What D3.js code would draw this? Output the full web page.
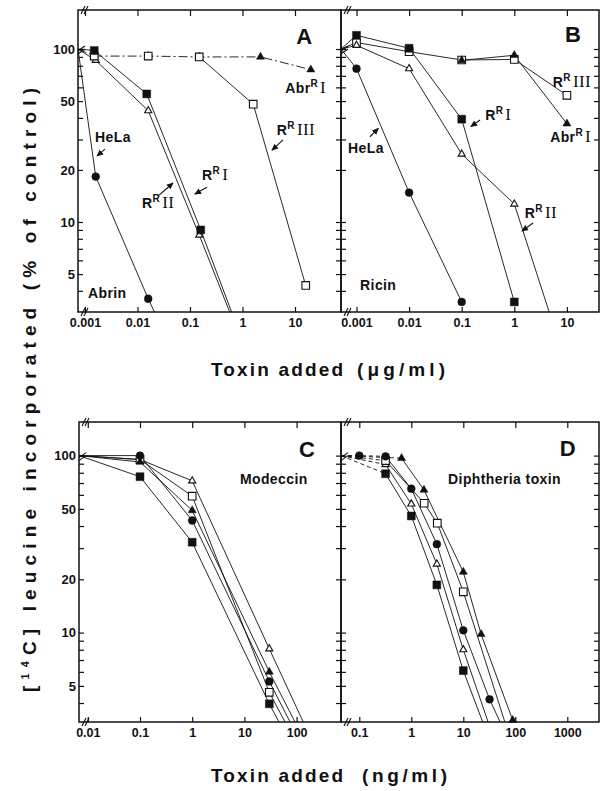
<!DOCTYPE html>
<html>
<head>
<meta charset="utf-8">
<script src="https://cdn.jsdelivr.net/npm/d3@7"></script>
<style>
  body { margin: 0; background: #fff; }
</style>
</head>
<body>
<svg id="figure" width="600" height="791"></svg>
<script>
//Tick values, % of control
const yLabelTicks = [5, 10, 20, 50, 100];
const yMinorTicks = [3, 4, 6, 7, 8, 9, 30, 40, 60, 70, 80, 90];

//Toxin doses marked on the x axes
const xTicksAB = [0.001, 0.01, 0.1, 1, 10];
const xTicksC = [0.01, 0.1, 1, 10, 100];
const xTicksD = [0.1, 1, 10, 100, 1000];

//Panel A - abrin, [dose ug/ml, % of control]
const abrinData = {
  HeLa: [[0.0016, 18.3], [0.016, 3.6]],
  RRI: [[0.0015, 98], [0.015, 55], [0.16, 9.0]],
  RRII: [[0.0016, 86], [0.016, 44], [0.15, 8.4]],
  RRIII: [[0.0015, 91], [0.016, 91], [0.15, 90], [1.6, 48], [16, 4.3]],
  AbrRI: [[0.0015, 91], [0.016, 91], [0.15, 90], [2.2, 90], [20, 76]],
};
//dose where a curve leaves the plot at the bottom
const abrinTails = { HeLa: 0.021, RRI: 0.62, RRII: 0.57 };

//Panel B - ricin
const ricinData = {
  HeLa: [[0.001, 77], [0.01, 14.8], [0.1, 3.45]],
  RRI: [[0.001, 120], [0.01, 101], [0.1, 39.3], [1, 3.45]],
  RRII: [[0.001, 105], [0.01, 77], [0.1, 24.7], [1, 12.7]],
  RRIII: [[0.001, 109], [0.01, 96.5], [0.1, 86.4], [1, 87], [10, 54]],
  AbrRI: [[0.1, 86], [1, 92], [10, 37]],
};
const ricinTails = { RRII: 4.6 };

//Panel C - modeccin, [dose ng/ml, % of control]
const modeccinData = {
  HeLa: [[0.1, 100], [1, 43], [30, 5.3]],
  RRI: [[0.1, 76], [1, 32.4], [30, 3.96]],
  RRII: [[0.1, 95], [1, 72], [30, 8.1]],
  RRIII: [[0.1, 95], [1, 59], [30, 4.6]],
  AbrRI: [[0.1, 92], [1, 49], [30, 6.0]],
};
const modeccinTails = { HeLa: 75, RRI: 46, RRII: 134, RRIII: 60, AbrRI: 93 };

//Panel D - diphtheria toxin
const diphtheriaData = {
  HeLa: [[0.1, 100], [0.32, 99], [1, 65], [3.1, 31.6], [10, 10.3], [32, 4.2]],
  RRI: [[0.32, 79], [1, 45.6], [3.1, 18.6], [10, 6.1]],
  RRII: [[0.32, 89], [1, 53.3], [3.1, 24.4], [10, 8.0]],
  RRIII: [[0.32, 93.7], [1.77, 53.8], [3.16, 41.5], [10, 17]],
  AbrRI: [[0.65, 96.7], [1.75, 64], [10, 22], [22, 9.8], [89, 3.2]],
};
const diphtheriaTails = { HeLa: 51, RRI: 23.6, RRII: 30, RRIII: 63 };

//Curve labels, placed in data units of their panel
const notesA = [
  { text: "A", x: 15, y: 107, big: true },
  { text: "Abr", sup: "R", roman: "I", x: 6.5, y: 55.7 },
  { text: "R", sup: "R", roman: "III", x: 4.5, y: 32 },
  { text: "R", sup: "R", roman: "I", x: 0.17, y: 17.5 },
  { text: "R", sup: "R", roman: "II", x: 0.0122, y: 12.1 },
  { text: "HeLa", x: 0.00155, y: 29 },
  { text: "Abrin", x: 0.00114, y: 3.64 },
];
const arrowsA = [
  [[5.9, 29.8], [3.65, 26]],
  [[0.211, 15.9], [0.124, 14.5]],
  [[0.0245, 14.1], [0.0474, 16.8]],
  [[0.0024, 26.4], [0.0017, 24.1]],
];
const notesB = [
  { text: "B", x: 13, y: 110, big: true },
  { text: "R", sup: "R", roman: "III", x: 5.4, y: 60 },
  { text: "Abr", sup: "R", roman: "I", x: 4.8, y: 29 },
  { text: "R", sup: "R", roman: "I", x: 0.28, y: 38.9 },
  { text: "HeLa", x: 0.00069, y: 25 },
  { text: "R", sup: "R", roman: "II", x: 1.58, y: 10.5 },
  { text: "Ricin", x: 0.00117, y: 4.05 },
];
const arrowsB = [
  [[0.223, 38.9], [0.15, 35.6]],
  [[0.0018, 31.1], [0.0026, 34.8]],
  [[2.27, 9.86], [1.4, 8.87]],
];
const notesC = [
  { text: "C", x: 158, y: 98, big: true },
  { text: "Modeccin", x: 8.2, y: 69 },
];
const notesD = [
  { text: "D", x: 1020, y: 100, big: true },
  { text: "Diphtheria toxin", x: 5.1, y: 69 },
];

const ink = "#111";
const sansFont = '"Liberation Sans", Arial, sans-serif';
const serifFont = '"Liberation Serif", "Times New Roman", serif';

//Marker for each cell line
const symbolShape = {
  HeLa: d3.symbolCircle,
  RRI: d3.symbolSquare,
  RRII: d3.symbolTriangle,
  RRIII: d3.symbolSquare,
  AbrRI: d3.symbolTriangle,
};
const symbolFilled = { HeLa: true, RRI: true, RRII: false, RRIII: false, AbrRI: true };
const symbolArea = { HeLa: 48, RRI: 62, RRII: 22, RRIII: 58, AbrRI: 28 };

const panels = [
  {
    name: "A", data: abrinData, tails: abrinTails, notes: notesA, arrows: arrowsA,
    xTicks: xTicksAB, xRange: [85, 295], yRange: [49, 222],
    frame: { left: 78, right: 341, top: 10, bottom: 312 }, yLabels: true,
    order: ["AbrRI", "RRII", "RRIII", "RRI", "HeLa"],
    lineStart: { RRIII: 2 }, dashDot: ["AbrRI"], dashedHead: {},
  },
  {
    name: "B", data: ricinData, tails: ricinTails, notes: notesB, arrows: arrowsB,
    xTicks: xTicksAB, xRange: [356.5, 566.9], yRange: [49, 222],
    frame: { left: 341, right: 599, top: 10, bottom: 312 }, yLabels: false,
    order: ["RRIII", "RRII", "AbrRI", "RRI", "HeLa"],
    lineStart: { AbrRI: 0 }, dashDot: [], dashedHead: {},
  },
  {
    name: "C", data: modeccinData, tails: modeccinTails, notes: notesC, arrows: [],
    xTicks: xTicksC, xRange: [87.8, 296.6], yRange: [455.6, 632.6],
    frame: { left: 79, right: 341, top: 422, bottom: 722 }, yLabels: true,
    order: ["RRII", "RRIII", "AbrRI", "RRI", "HeLa"],
    lineStart: {}, dashDot: [], dashedHead: {},
  },
  {
    name: "D", data: diphtheriaData, tails: diphtheriaTails, notes: notesD, arrows: [],
    xTicks: xTicksD, xRange: [359.3, 567.3], yRange: [455.6, 632.6],
    frame: { left: 341, right: 599, top: 422, bottom: 722 }, yLabels: false,
    order: ["RRII", "RRIII", "AbrRI", "RRI", "HeLa"],
    lineStart: {}, dashDot: [],
    dashedHead: { HeLa: 2, RRI: 1, RRII: 1, RRIII: 1, AbrRI: 1 },
  },
];

const svg = d3.select("#figure");

svg
  .append("defs")
  .append("marker")
  .attr("id", "arrowHead")
  .attr("viewBox", "0 0 8 8")
  .attr("refX", 7)
  .attr("refY", 4)
  .attr("markerWidth", 7)
  .attr("markerHeight", 7)
  .attr("markerUnits", "userSpaceOnUse")
  .attr("orient", "auto")
  .append("path")
  .attr("d", "M0,0.5 L8,4 L0,7.5 Z")
  .attr("fill", ink);

const styleAxis = (sel, size) => {
  sel.select(".domain").remove();
  sel.selectAll("line").attr("stroke", ink).attr("stroke-width", 1.2);
  sel
    .selectAll("text")
    .attr("font-family", sansFont)
    .attr("font-weight", "bold")
    .attr("font-size", size)
    .attr("fill", ink);
};

//small "//" axis break
const breakMark = (g, cx, cy, vertical) => {
  [0, 3].forEach((o) => {
    const l = g.append("line").attr("stroke", ink).attr("stroke-width", 1.1);
    if (vertical) {
      l.attr("x1", cx - 3).attr("y1", cy + 2 + o).attr("x2", cx + 4).attr("y2", cy - 3 + o);
    } else {
      l.attr("x1", cx - 2 + o).attr("y1", cy + 4).attr("x2", cx + 2 + o).attr("y2", cy - 4);
    }
  });
};

const drawPanel = (p) => {
  const { left, right, top, bottom } = p.frame;
  const x = d3
    .scaleLog()
    .domain([p.xTicks[0], p.xTicks[p.xTicks.length - 1]])
    .range(p.xRange);
  const y = d3.scaleLog().domain([100, 10]).range(p.yRange);
  const xStart = x.invert(left);
  const yFloor = y.invert(bottom);
  const yCeil = y.invert(top);
  const g = svg.append("g").attr("id", "panel-" + p.name);

  const clipId = "clip-" + p.name;
  g.append("clipPath")
    .attr("id", clipId)
    .append("rect")
    .attr("x", left)
    .attr("y", top)
    .attr("width", right - left)
    .attr("height", bottom - top);

  //frame
  g.append("rect")
    .attr("x", left)
    .attr("y", top)
    .attr("width", right - left)
    .attr("height", bottom - top)
    .attr("fill", "none")
    .attr("stroke", ink)
    .attr("stroke-width", 1.5);

  //ticks point inwards on all four sides
  const yTicks = yLabelTicks
    .concat(yMinorTicks)
    .filter((v) => v >= yFloor && v <= yCeil);
  g.append("g")
    .attr("transform", `translate(${left},0)`)
    .call(
      d3
        .axisLeft(y)
        .tickValues(yTicks)
        .tickSize(-5)
        .tickPadding(3)
        .tickFormat((v) => (p.yLabels && yLabelTicks.includes(v) ? v : ""))
    )
    .call(styleAxis, 13);
  g.append("g")
    .attr("transform", `translate(${right},0)`)
    .call(d3.axisRight(y).tickValues(yTicks).tickSize(-5).tickFormat(""))
    .call(styleAxis, 13);
  g.append("g")
    .attr("transform", `translate(0,${top})`)
    .call(d3.axisTop(x).tickValues(p.xTicks).tickSize(-6).tickFormat(""))
    .call(styleAxis, 12);
  g.append("g")
    .attr("transform", `translate(0,${bottom})`)
    .call(
      d3
        .axisBottom(x)
        .tickValues(p.xTicks)
        .tickSize(-5)
        .tickPadding(6)
        .tickFormat((v) => String(v))
    )
    .call(styleAxis, 12.5);

  breakMark(g, left + 5, top, false);
  breakMark(g, left + 5, bottom, false);
  breakMark(g, left + 3, y(100), true);

  //curves, starting from the control (100 %) on the left axis
  const line = d3
    .line()
    .x((d) => x(d[0]))
    .y((d) => y(d[1]));
  const curves = g.append("g").attr("clip-path", `url(#${clipId})`);
  p.order.forEach((key) => {
    const pts = p.data[key];
    let path =
      key in p.lineStart
        ? pts.slice(p.lineStart[key])
        : [[xStart, 100]].concat(pts);
    if (p.tails[key] !== undefined) path = path.concat([[p.tails[key], yFloor]]);
    const nDash = p.dashedHead[key] || 0;
    if (nDash > 0) {
      curves
        .append("path")
        .datum(path.slice(0, nDash + 1))
        .attr("d", line)
        .attr("fill", "none")
        .attr("stroke", ink)
        .attr("stroke-width", 0.9)
        .attr("stroke-dasharray", "4,3");
    }
    curves
      .append("path")
      .datum(path.slice(nDash))
      .attr("d", line)
      .attr("fill", "none")
      .attr("stroke", ink)
      .attr("stroke-width", 0.9)
      .attr("stroke-dasharray", p.dashDot.includes(key) ? "9,3,2,3" : null);
  });

  //markers on top
  p.order.forEach((key) => {
    g.selectAll(null)
      .data(p.data[key])
      .enter()
      .append("path")
      .attr("transform", (d) => `translate(${x(d[0])},${y(d[1])})`)
      .attr("d", d3.symbol().type(symbolShape[key]).size(symbolArea[key]))
      .attr("fill", symbolFilled[key] ? ink : "#fff")
      .attr("stroke", ink)
      .attr("stroke-width", symbolFilled[key] ? 0.5 : 1.1);
  });

  //labels
  p.notes.forEach((n) => {
    const t = g
      .append("text")
      .attr("x", x(n.x))
      .attr("y", y(n.y))
      .attr("font-family", sansFont)
      .attr("font-weight", "bold")
      .attr("fill", ink);
    if (n.big) {
      t.attr("text-anchor", "middle").attr("font-size", 22).text(n.text);
      return;
    }
    t.attr("font-size", 14).attr("letter-spacing", 0.4);
    t.append("tspan").text(n.text);
    if (n.sup) {
      t.append("tspan").attr("font-size", 10).attr("dy", -6).text(n.sup);
      t.append("tspan")
        .attr("font-family", serifFont)
        .attr("font-weight", "normal")
        .attr("font-size", 17)
        .attr("dx", 2)
        .attr("dy", 6)
        .text(n.roman);
    }
  });

  g.selectAll(null)
    .data(p.arrows)
    .enter()
    .append("line")
    .attr("x1", (d) => x(d[0][0]))
    .attr("y1", (d) => y(d[0][1]))
    .attr("x2", (d) => x(d[1][0]))
    .attr("y2", (d) => y(d[1][1]))
    .attr("stroke", ink)
    .attr("stroke-width", 1.1)
    .attr("marker-end", "url(#arrowHead)");
};

panels.forEach(drawPanel);

//axis titles
const xTitle = (yBase, unit, unitX, unitEnd) => {
  svg
    .append("text")
    .attr("x", 211)
    .attr("y", yBase)
    .attr("font-family", sansFont)
    .attr("font-weight", "bold")
    .attr("font-size", 19)
    .attr("fill", ink)
    .attr("textLength", 132)
    .attr("lengthAdjust", "spacing")
    .text("Toxin added");
  svg
    .append("text")
    .attr("x", unitX)
    .attr("y", yBase)
    .attr("font-family", sansFont)
    .attr("font-weight", "bold")
    .attr("font-size", 19)
    .attr("fill", ink)
    .attr("textLength", unitEnd - unitX)
    .attr("lengthAdjust", "spacing")
    .text(unit);
};
xTitle(376, "(μg/ml)", 357, 445);
xTitle(782, "(ng/ml)", 362, 447);

const yTitle = svg
  .append("text")
  .attr("transform", "translate(36,692) rotate(-90)")
  .attr("font-family", sansFont)
  .attr("font-weight", "bold")
  .attr("font-size", 19)
  .attr("fill", ink)
  .attr("textLength", 604)
  .attr("lengthAdjust", "spacing");
yTitle.append("tspan").text("[");
yTitle.append("tspan").attr("font-size", 11).attr("dy", -7).text("14");
yTitle.append("tspan").attr("dy", 7).text("C] leucine  incorporated (% of control)");
</script>
</body>
</html>
